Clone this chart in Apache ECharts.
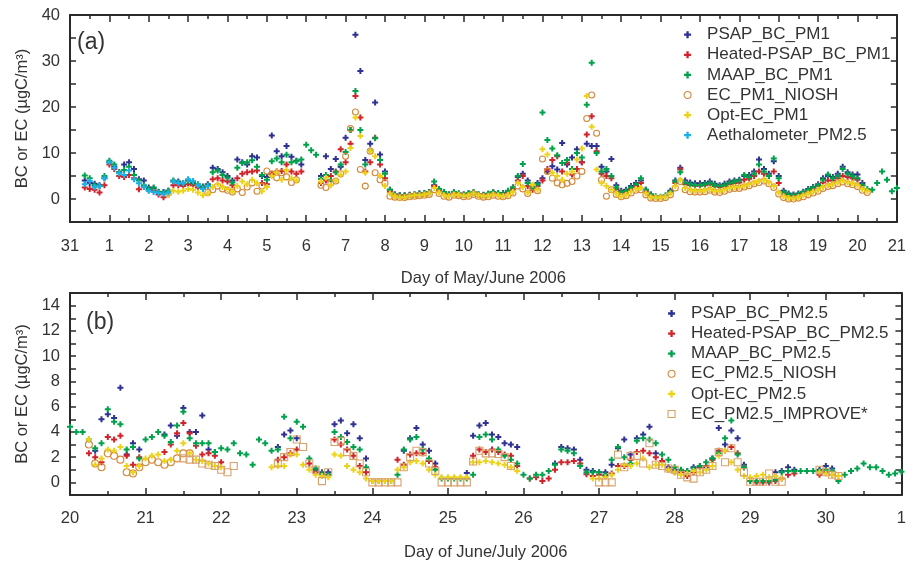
<!DOCTYPE html>
<html>
<head>
<meta charset="utf-8">
<script src="https://cdn.jsdelivr.net/npm/echarts@6/dist/echarts.min.js"></script>
<style>
  html, body { margin: 0; padding: 0; background: #fff; }
  #chart { width: 909px; height: 562px; }
</style>
</head>
<body>
<div id="chart"></div>
<script>
// ---- Panel (a): May 31 – June 21, 3-hourly values (day 0 = May 31) ----
const TOP_STEP = 0.125;
const topDayLabels = ['31','1','2','3','4','5','6','7','8','9','10','11','12','13','14','15','16','17','18','19','20','21'];

const psapPm1Start = 0.375;
const psapPm1 = [
  4.0,3.5,3.3,3.0,4.5,
  8.0,7.0,5.8,7.5,8.0,6.5,4.3,4.0,
  2.5,2.3,1.5,1.5,1.8,3.8,3.8,3.3,
  4.0,3.5,3.0,2.7,3.2,6.8,6.5,5.8,
  5.0,4.0,8.6,8.0,7.5,9.3,9.0,5.0,
  4.8,13.8,10.4,9.3,11.5,9.2,8.3,7.5,
  null,null,null,5.0,9.3,6.5,8.7,7.0,
  13.3,15.0,35.7,27.8,8.5,12.0,21.0,9.7,
  6.0,2.0,1.0,0.8,0.8,0.9,1.0,1.2,
  1.3,1.5,3.0,2.0,1.4,1.0,1.4,1.2,
  1.0,1.2,1.4,1.0,0.9,1.1,1.4,1.2,
  1.3,1.6,2.5,4.8,5.5,4.0,2.5,3.5,
  4.5,6.0,7.1,6.4,12.2,7.5,9.0,10.8,
  8.0,12.0,11.5,11.5,7.0,6.0,8.7,3.0,
  1.8,2.0,2.8,3.5,4.0,2.0,1.0,null,
  null,null,1.8,4.0,6.8,4.0,3.6,3.4,
  3.4,3.5,3.8,3.3,3.0,3.3,3.8,4.0,
  4.2,5.0,5.2,6.0,8.6,6.5,5.5,8.2,
  5.0,1.8,1.2,1.0,1.2,1.6,2.2,2.6,
  3.2,4.5,5.0,4.8,5.5,7.0,5.8,5.3,
  5.3,3.5
];

const heatedPm1Start = 0.375;
const heatedPm1 = [
  2.5,2.2,2.0,1.4,3.0,
  7.5,6.5,5.0,4.8,5.2,4.5,2.1,2.6,
  1.9,1.8,1.0,0.4,1.0,3.0,3.0,2.8,
  3.2,3.0,2.5,2.3,2.8,4.3,4.5,4.0,
  3.8,3.0,4.5,5.5,5.8,6.0,6.2,3.5,
  3.2,5.5,6.0,6.1,7.5,6.0,5.5,6.0,
  null,null,null,3.5,4.0,5.0,6.0,10.8,
  8.0,12.0,22.4,17.7,6.0,8.0,13.3,7.5,
  4.5,1.6,0.9,0.7,0.7,0.8,0.9,1.0,
  1.1,1.3,2.8,1.8,1.2,0.9,1.2,1.0,
  0.9,1.1,1.3,0.9,0.8,1.0,1.3,1.1,
  1.1,1.4,2.2,4.0,5.0,2.8,2.0,2.8,
  4.0,6.5,8.5,9.3,6.0,7.9,5.3,6.5,
  8.0,14.0,18.0,10.4,5.5,5.0,4.5,2.2,
  1.4,1.6,2.2,2.8,3.5,1.6,0.8,null,
  null,null,1.5,3.5,6.4,3.2,3.0,2.9,
  2.9,3.0,3.2,2.8,2.6,2.8,3.2,3.4,
  3.6,4.2,4.4,5.0,6.0,5.5,5.0,6.0,
  3.5,1.2,0.8,0.6,0.8,1.2,1.8,2.2,
  2.8,3.6,4.0,4.0,4.5,5.0,4.8,4.5,
  4.2,3.0
];

const maapPm1Start = 0.375;
const maapPm1 = [
  5.1,4.5,3.0,2.8,5.0,
  8.3,7.5,5.8,6.3,7.0,5.2,4.0,3.0,
  2.2,2.5,1.6,1.4,1.8,4.0,3.6,3.5,
  4.0,3.6,3.2,2.5,3.0,5.8,6.2,5.2,
  4.6,3.6,6.8,7.8,8.0,8.4,7.0,5.2,
  4.2,8.2,8.8,8.0,9.6,8.0,8.2,8.6,
  11.8,10.6,9.6,4.4,5.2,4.0,5.8,7.5,
  10.2,15.0,23.5,15.0,7.5,10.5,13.2,8.5,
  5.5,2.0,1.0,0.8,0.7,0.8,1.0,1.2,
  1.2,1.5,3.8,2.2,1.5,1.0,1.5,1.2,
  1.0,1.3,1.5,1.0,0.8,1.2,1.5,1.3,
  1.2,1.8,2.5,5.0,7.6,3.5,2.5,3.2,
  18.8,12.8,11.0,9.5,7.8,8.5,6.5,10.0,
  9.0,20.5,29.6,10.0,6.0,6.5,5.0,2.5,
  1.5,1.8,2.5,3.2,4.5,2.0,1.0,0.6,
  0.5,0.8,1.5,3.8,5.8,3.5,3.2,3.0,
  3.0,3.2,3.5,3.0,2.8,3.0,3.5,3.8,
  4.0,5.2,4.8,5.5,7.5,6.0,5.0,8.8,
  4.5,1.5,1.0,0.8,1.0,1.5,2.0,2.5,
  3.0,4.2,5.3,4.5,5.0,6.5,5.5,5.0,
  4.5,3.0,2.2,2.0,3.5,6.0,4.2,1.7,
  2.4
];

const nioshPm1Start = 3.5;
const nioshPm1 = [
  1.4,2.0,2.8,2.2,
  1.9,1.5,2.2,1.4,2.6,3.5,1.7,2.8,
  6.1,5.4,4.6,5.7,4.8,3.6,4.2,null,
  null,null,null,3.0,2.5,3.5,3.9,5.5,
  9.3,15.3,18.9,6.4,2.8,10.4,5.7,4.2,
  3.5,0.6,0.4,0.3,0.3,0.5,0.6,0.7,
  0.8,1.0,2.0,1.2,0.6,0.4,0.8,0.7,
  0.5,0.6,1.0,0.6,0.4,0.5,0.8,0.6,
  0.5,0.7,1.3,2.8,2.2,1.2,2.6,1.8,
  8.7,6.0,4.5,3.5,3.1,3.4,3.8,5.0,
  6.0,17.5,22.6,14.3,4.2,0.6,2.0,1.0,
  0.5,0.7,1.3,1.9,2.0,0.9,0.2,0.1,
  0.1,0.3,0.9,2.4,3.8,2.0,1.6,1.5,
  1.5,1.6,1.9,1.5,1.4,1.7,2.1,2.3,
  2.3,2.6,2.9,3.3,3.6,3.9,3.3,2.5,
  1.1,0.3,0.0,0.0,0.2,0.5,0.9,1.3,
  1.7,2.3,2.7,2.9,3.3,3.7,3.3,3.1,
  2.7,1.9,1.4
];

const optEcPm1Start = 2.5;
const optEcPm1 = [
  1.0,1.8,1.6,1.8,
  2.2,2.0,1.4,0.8,1.2,2.6,3.2,2.6,
  2.2,1.6,2.8,3.8,3.2,4.2,3.4,1.7,
  2.6,5.0,5.8,4.2,6.3,4.5,4.0,null,
  null,null,null,3.8,4.6,3.0,4.0,5.2,
  6.0,11.1,17.7,13.7,5.7,10.4,9.3,5.0,
  2.8,1.2,0.6,0.3,0.4,0.6,0.8,0.8,
  1.0,1.2,2.4,1.4,0.8,0.6,1.0,0.9,
  0.7,0.8,1.2,0.8,0.6,0.7,1.0,0.8,
  0.6,0.9,1.5,3.5,2.6,1.4,3.1,2.0,
  10.8,9.7,5.7,5.0,4.2,5.5,6.0,8.6,
  11.0,22.4,15.7,6.4,3.5,2.8,2.0,1.2,
  0.6,0.9,1.6,2.2,2.4,1.2,0.4,0.3,
  0.3,0.5,1.2,2.8,4.2,2.4,2.0,1.8,
  1.8,1.9,2.2,1.8,1.7,2.0,2.4,2.6,
  2.6,2.9,3.2,3.6,3.9,4.2,3.6,2.8,
  1.4,0.6,0.2,0.1,0.4,0.8,1.2,1.6,
  2.0,2.6,3.0,3.2,3.6,4.0,3.6,3.4,
  3.0,2.2,1.7
];

const aethPm25Start = 0.375;
const aethPm25 = [
  3.2,3.9,2.6,2.8,4.5,8.0,6.8,5.6,5.2,6.2,4.3,3.4,2.6,
  1.8,1.5,1.3,1.1,1.4,3.8,3.5,3.4,4.3,3.9,3.0,2.2,2.8
];

// ---- Panel (b): June 20 – July 1, 2-hourly values (day 0 = June 20) ----
const BOT_STEP = 1 / 12;
const bottomDayLabels = ['20','21','22','23','24','25','26','27','28','29','30','1'];

const psapPm25Start = 4 / 12;
const psapPm25 = [
  2.5,5.0,5.4,5.1,7.5,2.2,3.1,2.6,
  null,null,null,3.8,4.5,3.7,5.9,4.0,4.0,5.3,2.6,2.4,
  null,null,null,null,null,null,null,null,null,2.8,3.8,4.1,
  3.5,null,null,1.0,0.8,0.8,4.6,4.9,3.9,4.6,3.5,1.9,
  null,null,null,null,null,2.5,3.5,4.3,3.0,2.5,1.5,null,
  null,null,null,0.75,3.7,4.5,4.7,3.8,3.6,3.1,3.0,2.8,
  null,null,null,null,null,1.5,2.8,2.7,2.6,1.8,1.0,0.9,
  0.8,0.8,1.4,2.7,3.4,2.2,3.5,3.8,4.4,2.3,1.7,1.2,
  1.0,0.9,0.9,1.2,1.3,1.2,1.9,4.3,3.0,4.1,3.5,1.4,
  null,null,null,null,0.8,0.9,1.2,1.0,null,null,null,1.0,
  1.3,1.1
];

const heatedPm25Start = 3 / 12;
const heatedPm25 = [
  2.3,2.0,1.6,3.6,3.4,3.7,2.1,1.4,2.0,
  null,null,null,2.4,3.0,3.9,4.7,3.9,2.9,2.2,2.3,2.1,
  1.6,null,null,null,null,null,null,null,null,1.8,2.0,2.3,
  2.6,null,1.5,0.8,0.7,0.6,3.4,3.0,2.6,2.1,1.3,0.8,
  null,null,null,null,1.8,1.4,2.2,2.3,2.3,1.7,1.2,null,
  null,null,null,null,2.1,2.6,2.4,2.6,2.4,2.2,2.1,1.3,
  null,0.3,0.4,0.1,0.3,1.0,1.6,1.6,1.7,1.5,0.65,0.5,
  0.6,0.5,0.7,1.3,1.3,1.8,2.4,2.5,2.3,2.0,1.7,1.0,
  0.8,0.8,0.5,0.8,1.2,1.3,1.8,2.5,2.5,2.8,2.3,1.2,
  0.1,0.0,0.0,0.0,0.1,0.3,0.6,0.7,null,null,null,0.6,
  0.8,0.6
];

const maapPm25Start = 0;
const maapPm25 = [
  4.4,4.0,4.0,3.4,2.7,3.1,5.8,4.8,4.6,2.6,2.8,1.9,
  3.4,3.6,4.0,3.7,3.2,4.5,5.6,3.5,3.1,3.1,3.1,2.4,
  2.7,2.6,3.1,2.3,2.2,1.4,3.4,3.1,2.5,2.6,5.2,3.5,
  4.8,4.4,1.9,1.1,0.7,0.6,4.0,3.6,3.2,2.8,2.6,1.2,
  0.1,0.1,0.1,0.1,0.6,2.6,3.4,3.6,2.6,1.9,1.0,0.3,
  0.3,0.3,0.3,0.3,0.6,3.6,3.8,3.4,2.6,2.1,1.8,1.5,
  0.6,0.3,0.6,0.6,0.9,1.4,2.6,2.5,2.3,1.3,0.8,0.8,
  0.8,0.6,1.8,2.8,2.0,1.5,3.3,3.5,3.4,3.1,2.2,1.8,
  1.2,1.0,0.9,1.1,1.3,1.6,1.9,2.3,3.5,4.9,2.2,1.2,
  0.1,0.1,0.1,0.1,0.2,0.8,0.9,0.9,0.9,0.9,0.9,0.9,
  1.0,0.9,0.1,0.6,0.9,1.1,1.5,1.2,1.2,0.9,0.6,0.7,
  0.85
];

const nioshPm25Start = 3 / 12;
const nioshPm25 = [
  3.0,1.5,1.2,2.3,2.1,1.8,0.8,0.7,1.2,1.6,1.8,1.6,1.4,1.6,1.9,2.3,2.3
];

const optEcPm25Start = 3 / 12;
const optEcPm25 = [
  3.4,1.4,1.9,2.6,2.5,2.8,1.3,0.8,1.3,
  1.9,2.1,2.2,1.7,1.8,2.5,3.1,2.3,1.8,1.7,1.5,1.3,
  1.2,null,null,null,null,null,null,null,1.2,1.3,1.3,2.2,
  2.2,1.4,1.0,0.6,0.5,0.4,2.2,2.1,1.3,1.0,0.8,0.3,
  0.1,0.1,0.1,0.1,1.0,1.2,1.6,1.7,1.5,1.0,0.6,0.4,
  0.4,0.4,0.4,0.4,1.6,1.6,1.7,1.6,1.5,1.4,1.2,0.9,
  null,null,null,null,null,null,null,null,null,null,null,0.3,
  0.3,0.4,0.6,1.0,1.4,1.3,1.5,1.9,1.2,1.4,1.4,1.0,
  0.8,0.6,0.7,0.9,0.8,1.0,1.3,2.1,2.5,1.6,1.0,0.5,
  0.4,0.5,0.6,0.4,0.5,0.3,null,null,null,null,null,0.8,
  0.7,0.6,0.5
];

const improvePm25Start = 18 / 12;
const improvePm25 = [
  1.9,1.8,1.8,1.5,1.4,1.3,
  1.0,0.8,1.3,null,null,null,null,null,null,1.5,2.0,2.4,
  3.4,2.8,1.5,1.0,0.1,0.8,3.2,3.3,2.4,2.1,1.5,0.8,
  0,0,0,0,0,1.2,2.0,2.5,2.4,1.5,0.9,0,
  0,0,0,0,1.65,2.5,2.3,2.3,2.25,2.0,1.3,null,
  null,null,null,null,null,null,null,null,null,null,null,null,
  0,0,0,2.2,1.2,2.1,2.1,1.5,3.1,1.4,1.3,1.1,
  1.0,0.6,0.4,0.3,0.8,1.0,1.3,2.4,1.6,2.7,1.6,0.8,
  0.05,0.05,0.05,0.7,0.05,0.05,null,null,null,null,null,1.0,
  0.8,0.6,0.5
];

// ---- helpers ----
function toPoints(start, step, values) {
  const out = [];
  values.forEach(function (v, i) {
    if (v !== null) out.push([start + i * step, v]);
  });
  return out;
}

const FONT = '"Liberation Sans", Arial, Helvetica, sans-serif';
const INK = '#2a2a2a';
const PLUS = 'path://M2,0H4V2H6V4H4V6H2V4H0V2H2Z';

const C_PSAP = '#2e3192';
const C_HEATED = '#d2232a';
const C_MAAP = '#00a14b';
const C_NIOSH = '#d4883c';
const C_OPT = '#ecd31a';
const C_AETH = '#1cb0e6';
const C_IMPROVE = '#d9a26c';

function plusSeries(name, color, xi, yi, data, size) {
  return {
    name: name, type: 'scatter', xAxisIndex: xi, yAxisIndex: yi,
    symbol: PLUS, symbolSize: size, symbolKeepAspect: true,
    itemStyle: { color: color, opacity: 1 },
    data: data, animation: false, silent: true
  };
}
function ringSeries(name, color, xi, yi, data, size, symbol) {
  return {
    name: name, type: 'scatter', xAxisIndex: xi, yAxisIndex: yi,
    symbol: symbol, symbolSize: size,
    itemStyle: { color: 'rgba(0,0,0,0)', borderColor: color, borderWidth: 1.1, opacity: 1 },
    data: data, animation: false, silent: true
  };
}

function xAxes(grid, max, labels, name, nameGap, margin) {
  const common = {
    gridIndex: grid, type: 'value', min: 0, max: max, interval: 1,
    axisLine: { show: true, onZero: false, lineStyle: { color: INK, width: 2 } },
    axisTick: { show: true, inside: true, length: 7, lineStyle: { color: INK, width: 1.5 } },
    minorTick: { show: true, splitNumber: 2, length: 4, lineStyle: { color: INK, width: 1.5 } },
    splitLine: { show: false }, minorSplitLine: { show: false }
  };
  return [
    Object.assign({}, common, {
      position: 'bottom',
      axisLabel: {
        margin: margin, fontSize: 16.5, color: '#333', fontFamily: FONT,
        formatter: function (v) { return Number.isInteger(v) ? labels[v] : ''; }
      },
      name: name, nameLocation: 'middle', nameGap: nameGap,
      nameTextStyle: { fontSize: 16.5, color: '#333', fontFamily: FONT }
    }),
    Object.assign({}, common, { position: 'top', axisLabel: { show: false } })
  ];
}

function yAxes(grid, min, max, interval, labelEvery) {
  const common = {
    gridIndex: grid, type: 'value', min: min, max: max, interval: interval,
    axisLine: { show: true, onZero: false, lineStyle: { color: INK, width: 2 } },
    axisTick: { show: true, inside: true, length: 6, lineStyle: { color: INK, width: 1.5 } },
    splitLine: { show: false }
  };
  return [
    Object.assign({}, common, {
      position: 'left',
      axisLabel: {
        margin: 10, fontSize: 16.5, color: '#333', fontFamily: FONT,
        formatter: function (v) { return (v >= 0 && v % labelEvery === 0) ? String(v) : ''; }
      },
      name: 'BC or EC (\u00b5gC/m\u00b3)', nameLocation: 'middle', nameGap: 38,
      nameTextStyle: { fontSize: 16.5, color: '#333', fontFamily: FONT }
    }),
    Object.assign({}, common, { position: 'right', axisLabel: { show: false } })
  ];
}

const topNames = ['PSAP_BC_PM1','Heated-PSAP_BC_PM1','MAAP_BC_PM1','EC_PM1_NIOSH','Opt-EC_PM1','Aethalometer_PM2.5'];
const botNames = ['PSAP_BC_PM2.5','Heated-PSAP_BC_PM2.5','MAAP_BC_PM2.5','EC_PM2.5_NIOSH','Opt-EC_PM2.5','EC_PM2.5_IMPROVE*'];

const series = [
  plusSeries(topNames[0], C_PSAP, 0, 0, toPoints(psapPm1Start, TOP_STEP, psapPm1), 6),
  plusSeries(topNames[1], C_HEATED, 0, 0, toPoints(heatedPm1Start, TOP_STEP, heatedPm1), 6),
  plusSeries(topNames[2], C_MAAP, 0, 0, toPoints(maapPm1Start, TOP_STEP, maapPm1), 6),
  ringSeries(topNames[3], C_NIOSH, 0, 0, toPoints(nioshPm1Start, TOP_STEP, nioshPm1), 6, 'circle'),
  plusSeries(topNames[4], C_OPT, 0, 0, toPoints(optEcPm1Start, TOP_STEP, optEcPm1), 6),
  plusSeries(topNames[5], C_AETH, 0, 0, toPoints(aethPm25Start, TOP_STEP, aethPm25), 6),

  plusSeries(botNames[0], C_PSAP, 2, 2, toPoints(psapPm25Start, BOT_STEP, psapPm25), 6),
  plusSeries(botNames[1], C_HEATED, 2, 2, toPoints(heatedPm25Start, BOT_STEP, heatedPm25), 6),
  plusSeries(botNames[2], C_MAAP, 2, 2, toPoints(maapPm25Start, BOT_STEP, maapPm25), 6),
  ringSeries(botNames[3], C_NIOSH, 2, 2, toPoints(nioshPm25Start, BOT_STEP, nioshPm25), 7, 'circle'),
  plusSeries(botNames[4], C_OPT, 2, 2, toPoints(optEcPm25Start, BOT_STEP, optEcPm25), 6),
  ringSeries(botNames[5], C_IMPROVE, 2, 2, toPoints(improvePm25Start, BOT_STEP, improvePm25), 7, 'rect')
];

function legendData(names) {
  return names.map(function (n, i) {
    return (i === 3 || (i === 5 && n.indexOf('IMPROVE') >= 0))
      ? { name: n, itemStyle: { borderWidth: 1.1 } }
      : { name: n };
  });
}

const legendCommon = {
  orient: 'vertical', itemWidth: 7, itemHeight: 7, itemGap: 0.1,
  selectedMode: false,
  textStyle: { fontSize: 17, color: '#333', fontFamily: FONT, lineHeight: 20, padding: [0, 0, 0, 11] }
};

const option = {
  backgroundColor: '#fff',
  animation: false,
  grid: [
    { left: 70, right: 7, top: 15, height: 207 },
    { left: 70, right: 7, top: 293, height: 206 }
  ],
  xAxis: xAxes(0, 21, topDayLabels, 'Day of May/June 2006', 48, 16)
    .concat(xAxes(1, 11, bottomDayLabels, 'Day of June/July 2006', 49, 15)),
  yAxis: yAxes(0, -5, 40, 5, 10).concat(yAxes(1, -1, 15, 1, 2)),
  legend: [
    Object.assign({}, legendCommon, { left: 678.5, top: 19.7, data: legendData(topNames) }),
    Object.assign({}, legendCommon, { left: 662.5, top: 298.5, data: legendData(botNames) })
  ],
  graphic: [
    { type: 'text', left: 77, top: 31, silent: true,
      style: { text: '(a)', font: '23px ' + FONT, fill: '#333' } },
    { type: 'text', left: 86, top: 311, silent: true,
      style: { text: '(b)', font: '23px ' + FONT, fill: '#333' } }
  ],
  series: series
};

const chart = echarts.init(document.getElementById('chart'), null, { renderer: 'canvas' });
chart.setOption(option);
</script>
</body>
</html>
